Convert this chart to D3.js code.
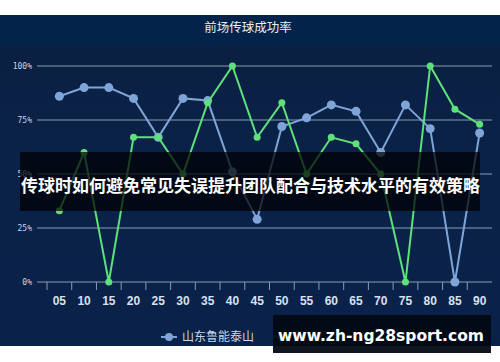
<!DOCTYPE html>
<html>
<head>
<meta charset="utf-8">
<script src="https://cdn.jsdelivr.net/npm/d3@7"></script>
<style>
  body { margin: 0; background: #fff; }
  svg { display: block; }
</style>
</head>
<body>
<div id="chart"></div>
<script>
// data
var minutes = ["05", "10", "15", "20", "25", "30", "35", "40", "45", "50", "55", "60", "65", "70", "75", "80", "85", "90"];
var shandong = [86, 90, 90, 85, 67, 85, 84, 51, 29, 72, 76, 82, 79, 60, 82, 71, 0, 69];
var tianjin = [33, 60, 0, 67, 67, 50, 83, 100, 67, 83, 50, 67, 64, 50, 0, 100, 80, 73];
var seriesNames = ["山东鲁能泰山", "天津权健"];
var yTicks = [0, 25, 50, 75, 100];

var svgWidth = 500;
var svgHeight = 362;

var svg = d3.select("#chart")
  .append("svg")
  .attr("width", svgWidth)
  .attr("height", svgHeight);

// background panel
var defs = svg.append("defs");
var grad = defs.append("linearGradient")
  .attr("id", "bg")
  .attr("x1", 0).attr("y1", 0).attr("x2", 0).attr("y2", 1);
grad.append("stop").attr("offset", "0%").attr("stop-color", "#0a1f40");
grad.append("stop").attr("offset", "40%").attr("stop-color", "#0b2248");
grad.append("stop").attr("offset", "100%").attr("stop-color", "#0a2249");

svg.append("rect")
  .attr("x", 0).attr("y", 15)
  .attr("width", svgWidth).attr("height", 331)
  .attr("fill", "url(#bg)");

svg.append("rect")
  .attr("x", 0).attr("y", 15)
  .attr("width", svgWidth).attr("height", 30)
  .attr("fill", "#04234a");

svg.append("text")
  .attr("x", 248).attr("y", 32)
  .attr("text-anchor", "middle")
  .attr("font-family", "Noto Sans CJK SC")
  .attr("font-size", 12.5)
  .attr("fill", "#e8eef7")
  .text("前场传球成功率");

// scales
var xScale = d3.scaleBand()
  .domain(minutes)
  .range([47, 492]);

var yScale = d3.scaleLinear()
  .domain([0, 100])
  .range([282, 66]);

// grid lines
svg.append("g")
  .selectAll("line")
  .data(yTicks)
  .enter()
  .append("line")
  .attr("x1", 37).attr("x2", 492)
  .attr("y1", d => yScale(d)).attr("y2", d => yScale(d))
  .attr("stroke", "#8a9bb5")
  .attr("stroke-width", 1);

// y labels
svg.append("g")
  .selectAll("text")
  .data(yTicks)
  .enter()
  .append("text")
  .attr("x", 32)
  .attr("y", d => yScale(d) + 3)
  .attr("text-anchor", "end")
  .attr("font-family", "DejaVu Sans Mono")
  .attr("font-size", 8)
  .attr("fill", "#c9d5e6")
  .text(d => d + "%");

// x axis
var bottomAxis = d3.axisBottom(xScale)
  .tickSize(8)
  .tickSizeOuter(0)
  .tickPadding(6);

var xAxis = svg.append("g")
  .attr("transform", `translate(0, ${yScale(0)})`)
  .call(bottomAxis);

xAxis.select(".domain").remove();
// ticks sit on band edges
xAxis.selectAll(".tick line")
  .attr("x1", -xScale.bandwidth() / 2)
  .attr("x2", -xScale.bandwidth() / 2)
  .attr("stroke", "#8a9bb5");
xAxis.selectAll(".tick text")
  .attr("font-family", "Liberation Sans")
  .attr("font-weight", "bold")
  .attr("font-size", 12)
  .attr("fill", "#d7e1ee");

var x = d => xScale(d) + xScale.bandwidth() / 2;

// series
var series = [
  { name: seriesNames[0], values: shandong, color: "#7fa5d8", r: 4.5 },
  { name: seriesNames[1], values: tianjin, color: "#5ee07a", r: 3.5 }
];

var line = d3.line()
  .x((d, i) => x(minutes[i]))
  .y(d => yScale(d));

series.forEach(s => {
  svg.append("path")
    .datum(s.values)
    .attr("fill", "none")
    .attr("stroke", s.color)
    .attr("stroke-width", 2)
    .attr("d", line);

  svg.append("g")
    .selectAll("circle")
    .data(s.values)
    .enter()
    .append("circle")
    .attr("cx", (d, i) => x(minutes[i]))
    .attr("cy", d => yScale(d))
    .attr("r", s.r)
    .attr("fill", s.color);
});

// legend
var legendX = [161, 273];
series.forEach((s, i) => {
  var g = svg.append("g")
    .attr("transform", `translate(${legendX[i]}, 337)`);
  g.append("line")
    .attr("x1", 0).attr("x2", 16)
    .attr("stroke", s.color).attr("stroke-width", 2);
  g.append("circle")
    .attr("cx", 8).attr("r", 4)
    .attr("fill", s.color);
  g.append("text")
    .attr("x", 21).attr("y", 4)
    .attr("font-family", "Noto Sans CJK SC")
    .attr("font-size", 12)
    .attr("fill", "#c8d6ea")
    .text(s.name);
});

// overlay banner
svg.append("rect")
  .attr("x", 20).attr("y", 152)
  .attr("width", 460).attr("height", 59)
  .attr("fill", "#000000")
  .attr("fill-opacity", 0.72);

svg.append("text")
  .attr("x", 21).attr("y", 192)
  .attr("font-family", "Noto Sans CJK SC")
  .attr("font-weight", "bold")
  .attr("font-size", 17)
  .attr("fill", "#ffffff")
  .text("传球时如何避免常见失误提升团队配合与技术水平的有效策略");

// watermark box
svg.append("rect")
  .attr("x", 273).attr("y", 315)
  .attr("width", 218).attr("height", 38)
  .attr("fill", "#020a14")
  .attr("fill-opacity", 0.95);

svg.append("text")
  .attr("x", 381).attr("y", 341)
  .attr("text-anchor", "middle")
  .attr("font-family", "DejaVu Sans")
  .attr("font-weight", "bold")
  .attr("font-size", 15.5)
  .attr("fill", "#ffffff")
  .text("www.zh-ng28sport.com");
</script>
</body>
</html>
